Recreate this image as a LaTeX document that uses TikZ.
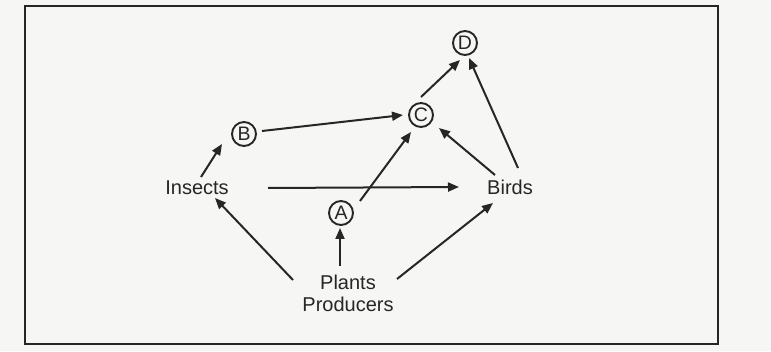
\documentclass[tikz,border=0pt]{standalone}
\usepackage{fontspec}
\setmainfont{Liberation Sans}
\usetikzlibrary{arrows.meta}
\definecolor{ink}{HTML}{262626}
\definecolor{paper}{HTML}{F6F6F5}
\tikzset{
  lbl/.style={text=ink, inner sep=0pt, font=\fontsize{20}{24}\selectfont},
  ring/.style={draw=ink, line width=1.9pt, circle, minimum size=24pt, inner sep=0pt, text=ink, font=\fontsize{19.5}{22}\selectfont},
  arr/.style={draw=ink, line width=2pt, -{Triangle[length=11pt,width=9pt]}},
}
\begin{document}
\begin{tikzpicture}[x=1pt,y=1pt]
\useasboundingbox (0,0) rectangle (771,351);
\fill[paper] (0,0) rectangle (771,351);
\draw[ink, line width=2.5pt] (25,7) rectangle (718,345);

\node[ring] (D) at (465,308) {D};
\node[ring] (C) at (421,236) {C};
\node[ring] (B) at (244,217) {B};
\node[ring] (A) at (341,138) {A};
\node[lbl] (Insects) at (197,163) {Insects};
\node[lbl] (Birds) at (510,164) {Birds};
\node[lbl] (Plants) at (348,69) {Plants};
\node[lbl] (Producers) at (348,47) {Producers};

\draw[arr] ([shift={(4,11)}]Insects.center) -- ([shift={(-22,-10)}]B.center);
\draw[arr] ([shift={(18,3)}]B.center) -- ([shift={(-18,0)}]C.center);
\draw[arr] ([shift={(71,0)}]Insects.center) -- ([shift={(-51,0)}]Birds.center);
\draw[arr] ([shift={(19,12)}]A.center) -- ([shift={(-10,-17)}]C.center);
\draw[arr] ([shift={(0,18)}]C.center) -- ([shift={(-5,-17)}]D.center);
\draw[arr] ([shift={(8,19)}]Birds.center) -- ([shift={(4,-15)}]D.center);
\draw[arr] ([shift={(-15,12)}]Birds.center) -- ([shift={(18,-13)}]C.center);
\draw[arr] ([shift={(-8,16)}]Plants.center) -- ([shift={(-1,-15)}]A.center);
\draw[arr] ([shift={(49,3)}]Plants.center) -- ([shift={(-17,-16)}]Birds.center);
\draw[arr] ([shift={(-55,2)}]Plants.center) -- ([shift={(18,-10)}]Insects.center);
\end{tikzpicture}
\end{document}
